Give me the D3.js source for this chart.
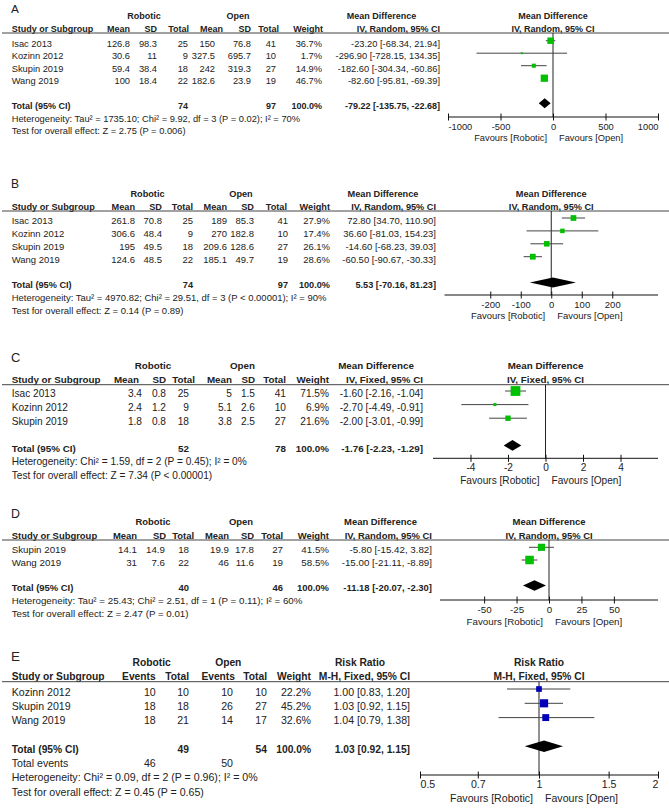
<!DOCTYPE html>
<html>
<head>
<meta charset="utf-8">
<script src="https://cdn.jsdelivr.net/npm/d3@7"></script>
<style>
  body { margin: 0; background: #fff; }
  svg text { font-family: "Liberation Sans", Arial, sans-serif; fill: #222; }
</style>
</head>
<body>
<svg id="chart" width="669" height="808"></svg>
<script>
// ---------- data ----------
// A
const studiesA = ['Isac 2013', 'Kozinn 2012', 'Skupin 2019', 'Wang 2019'];
const robMeanA = [126.8, 30.6, 59.4, 100];
const robSdA = [98.3, 11, 38.4, 18.4];
const robNA = [25, 9, 18, 22];
const openMeanA = [150, 327.5, 242, 182.6];
const openSdA = [76.8, 695.7, 319.3, 23.9];
const openNA = [41, 10, 27, 19];
const weightA = [36.7, 1.7, 14.9, 46.7];
const mdA = [-23.20, -296.90, -182.60, -82.60];
const lowA = [-68.34, -728.15, -304.34, -95.81];
const highA = [21.94, 134.35, -60.86, -69.39];
const pooledA = [-79.22, -135.75, -22.68];
const totalNA = [74, 97];
const ticksA = [-1000, -500, 0, 500, 1000];
const hetA = 'Heterogeneity: Tau² = 1735.10; Chi² = 9.92, df = 3 (P = 0.02); I² = 70%';
const testA = 'Test for overall effect: Z = 2.75 (P = 0.006)';

// B
const studiesB = ['Isac 2013', 'Kozinn 2012', 'Skupin 2019', 'Wang 2019'];
const robMeanB = [261.8, 306.6, 195, 124.6];
const robSdB = [70.8, 48.4, 49.5, 48.5];
const robNB = [25, 9, 18, 22];
const openMeanB = [189, 270, 209.6, 185.1];
const openSdB = [85.3, 182.8, 128.6, 49.7];
const openNB = [41, 10, 27, 19];
const weightB = [27.9, 17.4, 26.1, 28.6];
const mdB = [72.80, 36.60, -14.60, -60.50];
const lowB = [34.70, -81.03, -68.23, -90.67];
const highB = [110.90, 154.23, 39.03, -30.33];
const pooledB = [5.53, -70.16, 81.23];
const totalNB = [74, 97];
const ticksB = [-200, -100, 0, 100, 200];
const hetB = 'Heterogeneity: Tau² = 4970.82; Chi² = 29.51, df = 3 (P < 0.00001); I² = 90%';
const testB = 'Test for overall effect: Z = 0.14 (P = 0.89)';

// C
const studiesC = ['Isac 2013', 'Kozinn 2012', 'Skupin 2019'];
const robMeanC = [3.4, 2.4, 1.8];
const robSdC = [0.8, 1.2, 0.8];
const robNC = [25, 9, 18];
const openMeanC = [5, 5.1, 3.8];
const openSdC = [1.5, 2.6, 2.5];
const openNC = [41, 10, 27];
const weightC = [71.5, 6.9, 21.6];
const mdC = [-1.60, -2.70, -2.00];
const lowC = [-2.16, -4.49, -3.01];
const highC = [-1.04, -0.91, -0.99];
const pooledC = [-1.76, -2.23, -1.29];
const totalNC = [52, 78];
const ticksC = [-4, -2, 0, 2, 4];
const hetC = 'Heterogeneity: Chi² = 1.59, df = 2 (P = 0.45); I² = 0%';
const testC = 'Test for overall effect: Z = 7.34 (P < 0.00001)';

// D
const studiesD = ['Skupin 2019', 'Wang 2019'];
const robMeanD = [14.1, 31];
const robSdD = [14.9, 7.6];
const robND = [18, 22];
const openMeanD = [19.9, 46];
const openSdD = [17.8, 11.6];
const openND = [27, 19];
const weightD = [41.5, 58.5];
const mdD = [-5.80, -15.00];
const lowD = [-15.42, -21.11];
const highD = [3.82, -8.89];
const pooledD = [-11.18, -20.07, -2.30];
const totalND = [40, 46];
const ticksD = [-50, -25, 0, 25, 50];
const hetD = 'Heterogeneity: Tau² = 25.43; Chi² = 2.51, df = 1 (P = 0.11); I² = 60%';
const testD = 'Test for overall effect: Z = 2.47 (P = 0.01)';

// E
const studiesE = ['Kozinn 2012', 'Skupin 2019', 'Wang 2019'];
const robEventsE = [10, 18, 18];
const robNE = [10, 18, 21];
const openEventsE = [10, 26, 14];
const openNE = [10, 27, 17];
const weightE = [22.2, 45.2, 32.6];
const rrE = [1.00, 1.03, 1.04];
const lowE = [0.83, 0.92, 0.79];
const highE = [1.20, 1.15, 1.38];
const pooledE = [1.03, 0.92, 1.15];
const totalNE = [49, 54];
const totalEventsE = [46, 50];
const ticksE = [0.5, 0.7, 1, 1.5, 2];
const hetE = 'Heterogeneity: Chi² = 0.09, df = 2 (P = 0.96); I² = 0%';
const testE = 'Test for overall effect: Z = 0.45 (P = 0.65)';

// ---------- layout per panel ----------
const mdHead = ['Mean', 'SD', 'Total', 'Mean', 'SD', 'Total', 'Weight'];
const panels = [
  { letter: 'A', s: 1, letterY: 13.3, lineY: 33, firstY: 40.7, step: 12.5, axisY: 117,
    robX: 144, openX: 238, measureX: 381.5, ciRight: 440,
    headX: [130, 157, 189, 223, 251, 279, 323],
    cols: [[robMeanA, 130], [robSdA, 157], [robNA, 188], [openMeanA, 215], [openSdA, 251], [openNA, 276]],
    nX: [188, 276], weightX: 322, totals: totalNA, weights: weightA,
    studies: studiesA, est: mdA, lo: lowA, hi: highA, pooled: pooledA,
    measure: 'Mean Difference', method: 'IV, Random, 95% CI',
    log: false, domain: [-1000, 1000], range: [448, 658], ticks: ticksA,
    het: hetA, test: testA, color: '#00c000' },
  { letter: 'B', s: 1.02, letterY: 188.3, lineY: 211, firstY: 218, step: 12.9, axisY: 295,
    robX: 147.5, openX: 241, measureX: 383, ciRight: 436,
    headX: [135, 162, 193, 227, 254, 287, 330],
    cols: [[robMeanB, 135], [robSdB, 162], [robNB, 193], [openMeanB, 227], [openSdB, 254], [openNB, 288]],
    nX: [193, 288], weightX: 330, totals: totalNB, weights: weightB,
    studies: studiesB, est: mdB, lo: lowB, hi: highB, pooled: pooledB,
    measure: 'Mean Difference', method: 'IV, Random, 95% CI',
    log: false, domain: [-350, 350], range: [444.5, 658], ticks: ticksB,
    het: hetB, test: testB, color: '#00c000' },
  { letter: 'C', s: 1.09, letterY: 361.7, lineY: 384.7, firstY: 391, step: 13.6, axisY: 458.3,
    robX: 153, openX: 242.5, measureX: 376, ciRight: 423,
    headX: [139, 166, 195, 232, 255, 286, 329],
    cols: [[robMeanC, 142], [robSdC, 166], [robNC, 189], [openMeanC, 232], [openSdC, 255], [openNC, 286]],
    nX: [189, 286], weightX: 329, totals: totalNC, weights: weightC,
    studies: studiesC, est: mdC, lo: lowC, hi: highC, pooled: pooledC,
    measure: 'Mean Difference', method: 'IV, Fixed, 95% CI',
    log: false, domain: [-6, 6], range: [433, 658], ticks: ticksC,
    het: hetC, test: testC, color: '#00c000' },
  { letter: 'D', s: 1.05, letterY: 518.3, lineY: 540, firstY: 547.3, step: 12.7, axisY: 600,
    robX: 153, openX: 241, measureX: 380.5, ciRight: 432,
    headX: [137, 166, 194, 229, 254, 283, 329],
    cols: [[robMeanD, 137], [robSdD, 165], [robND, 189], [openMeanD, 229], [openSdD, 254], [openND, 283]],
    nX: [189, 283], weightX: 329, totals: totalND, weights: weightD,
    studies: studiesD, est: mdD, lo: lowD, hi: highD, pooled: pooledD,
    measure: 'Mean Difference', method: 'IV, Random, 95% CI',
    log: false, domain: [-84, 84], range: [440, 658], ticks: ticksD,
    het: hetD, test: testD, color: '#00c000' },
  { letter: 'E', s: 1.14, letterY: 660.7, lineY: 681.7, firstY: 689, step: 14.3, axisY: 775,
    robX: 151.7, openX: 228.3, measureX: 360, ciRight: 410,
    head: ['Events', 'Total', 'Events', 'Total', 'Weight'],
    headX: [155.7, 189, 235, 267, 311],
    cols: [[robEventsE, 155.7], [robNE, 189], [openEventsE, 233], [openNE, 267]],
    nX: [189, 267], weightX: 311, totals: totalNE, weights: weightE,
    events: totalEventsE, eventsX: [155.7, 233],
    studies: studiesE, est: rrE, lo: lowE, hi: highE, pooled: pooledE,
    measure: 'Risk Ratio', method: 'M-H, Fixed, 95% CI',
    log: true, domain: [0.5, 2], range: [420, 658], ticks: ticksE,
    het: hetE, test: testE, color: '#0000bb' }
];

const svg = d3.select('#chart');
const f2 = v => v.toFixed(2);
const ciText = (e, l, h) => `${f2(e)} [${f2(l)}, ${f2(h)}]`;

function drawPanel(p) {
  const s = p.s, fs = 9.3 * s, bfs = 9 * s;
  const g = svg.append('g');
  const txt = (x, y, str, o = {}) => g.append('text')
    .attr('x', x).attr('y', y)
    .attr('font-size', o.size || (o.bold ? bfs : fs))
    .attr('font-weight', o.bold ? 'bold' : null)
    .attr('text-anchor', o.anchor || 'start')
    .text(str);

  const x = (p.log ? d3.scaleLog() : d3.scaleLinear()).domain(p.domain).range(p.range);
  const y = d3.scaleLinear().domain([0, 1]).range([p.firstY, p.firstY + p.step]);
  const cx = x(p.log ? 1 : 0);
  const n = p.studies.length;
  const totalY = y(n + 1);
  const dy = 5.8 * s;

  // headers
  txt(11, p.letterY, p.letter, { size: 11.8 * s });
  const hy2 = p.lineY - 14 * s, hy = p.lineY - 1.3;
  txt(p.robX, hy2, 'Robotic', { bold: 1, anchor: 'middle' });
  txt(p.openX, hy2, 'Open', { bold: 1, anchor: 'middle' });
  txt(p.measureX, hy2, p.measure, { bold: 1, anchor: 'middle' });
  txt(cx, hy2, p.measure, { bold: 1, anchor: 'middle' });
  txt(11.7, hy, 'Study or Subgroup', { bold: 1 });
  const heads = p.head || mdHead;
  heads.forEach((t, i) => txt(p.headX[i], hy, t, { bold: 1, anchor: 'end' }));
  txt(p.ciRight, hy, p.method, { bold: 1, anchor: 'end' });
  txt(cx, hy, p.method, { bold: 1, anchor: 'middle' });

  g.append('line')
    .attr('x1', 2).attr('x2', 669).attr('y1', p.lineY).attr('y2', p.lineY)
    .attr('stroke', '#444').attr('stroke-width', 1);

  // study rows
  p.studies.forEach((st, i) => {
    const ty = y(i) + dy;
    txt(11.7, ty, st);
    p.cols.forEach(([arr, cxr]) => txt(cxr, ty, String(arr[i]), { anchor: 'end' }));
    txt(p.weightX, ty, p.weights[i].toFixed(1) + '%', { anchor: 'end' });
    txt(p.ciRight, ty, ciText(p.est[i], p.lo[i], p.hi[i]), { anchor: 'end' });
  });

  // total row
  const tty = totalY + dy;
  txt(11.7, tty, 'Total (95% CI)', { bold: 1 });
  p.totals.forEach((v, i) => txt(p.nX[i], tty, String(v), { bold: 1, anchor: 'end' }));
  txt(p.weightX, tty, '100.0%', { bold: 1, anchor: 'end' });
  txt(p.ciRight, tty, ciText(p.pooled[0], p.pooled[1], p.pooled[2]), { bold: 1, anchor: 'end' });

  let ny = y(n + 2) + dy;
  if (p.events) {
    txt(11.7, ny, 'Total events');
    p.events.forEach((v, i) => txt(p.eventsX[i], ny, String(v), { anchor: 'end' }));
    ny += p.step;
  }
  txt(11.7, ny, p.het);
  txt(11.7, ny + p.step, p.test);

  // null line
  g.append('line')
    .attr('x1', cx).attr('x2', cx).attr('y1', p.lineY).attr('y2', p.axisY)
    .attr('stroke', '#222');

  // CI lines and squares
  g.selectAll('line.ci').data(p.studies).join('line').attr('class', 'ci')
    .attr('x1', (d, i) => x(p.lo[i])).attr('x2', (d, i) => x(p.hi[i]))
    .attr('y1', (d, i) => y(i)).attr('y2', (d, i) => y(i))
    .attr('stroke', '#444').attr('stroke-width', 1);
  g.selectAll('rect.sq').data(p.studies).join('rect').attr('class', 'sq')
    .each(function (d, i) {
      const side = Math.max(2, 1.06 * s * Math.sqrt(p.weights[i]));
      d3.select(this)
        .attr('x', x(p.est[i]) - side / 2).attr('y', y(i) - side / 2)
        .attr('width', side).attr('height', side)
        .attr('fill', p.color);
    });

  // pooled diamond
  const h = 5 * s;
  g.append('path')
    .attr('d', `M${x(p.pooled[1])},${totalY} L${x(p.pooled[0])},${totalY - h} L${x(p.pooled[2])},${totalY} L${x(p.pooled[0])},${totalY + h} Z`)
    .attr('fill', '#000');

  // axis
  const ax = g.append('g')
    .attr('transform', `translate(0,${p.axisY})`)
    .call(d3.axisBottom(x).tickValues(p.ticks).tickSizeOuter(0).tickSizeInner(3.5)
      .tickFormat(d => String(d)));
  ax.attr('font-size', fs).attr('font-family', null).style('color', '#111');
  ax.select('.domain').attr('d', `M${p.range[0]},0H${p.range[1]}`);
  ax.selectAll('.tick line').attr('y1', -3.5).attr('y2', 3.5);
  // labels at the very ends of the axis are kept inside it
  ax.selectAll('.tick text').attr('y', 12.8).attr('dy', null).style('fill', '#222')
    .attr('text-anchor', d => Math.abs(x(d) - p.range[0]) < 1 ? 'start'
      : Math.abs(x(d) - p.range[1]) < 1 ? 'end' : 'middle');

  const fy = p.axisY + 24 * s;
  txt(cx - 6, fy, 'Favours [Robotic]', { anchor: 'end' });
  txt(cx + 6, fy, 'Favours [Open]');
}

panels.forEach(drawPanel);
</script>
</body>
</html>
